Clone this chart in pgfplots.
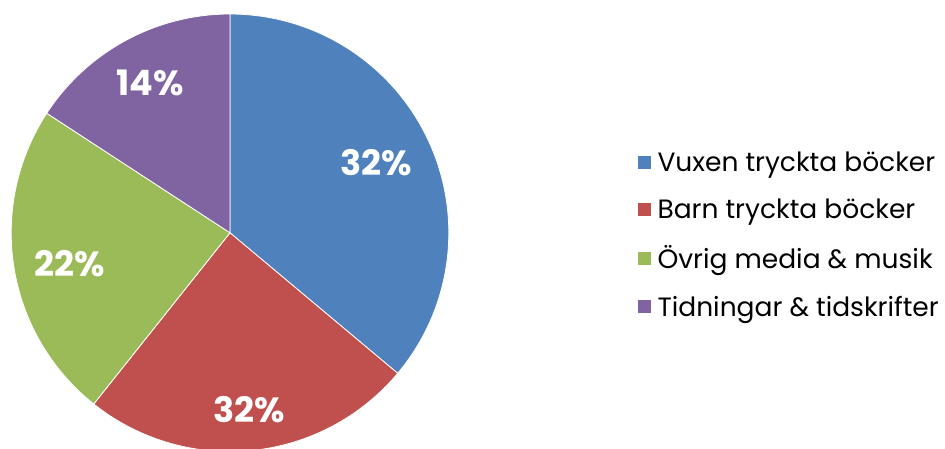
\documentclass[border=0pt]{standalone}
\usepackage{pgfplots}
\pgfplotsset{compat=1.18}
\usepackage{fontspec}
\setmainfont{Poppins}
\definecolor{cA}{HTML}{4F81BD}
\definecolor{cB}{HTML}{C0504D}
\definecolor{cC}{HTML}{9BBB59}
\definecolor{cD}{HTML}{8064A2}
% slice shares (percent) as drawn
\def\vA{36.1}\def\vB{24.6}\def\vC{23.5}\def\vD{15.8}
\def\cx{230}\def\cy{-232.8}\def\R{218.8}
\pgfmathsetmacro{\aA}{90}
\pgfmathsetmacro{\aB}{\aA-3.6*\vA}
\pgfmathsetmacro{\aC}{\aB-3.6*\vB}
\pgfmathsetmacro{\aD}{\aC-3.6*\vC}
\pgfmathsetmacro{\aE}{\aD-3.6*\vD}
\begin{document}
\begin{tikzpicture}
\useasboundingbox (0,0) rectangle (945pt,448pt);
\begin{axis}[
  at={(0,0)}, anchor=south west,
  x=1pt, y=1pt, xmin=0, xmax=945, ymin=-448, ymax=0,
  enlargelimits=false, hide axis, clip=true,
  legend image code/.code={\fill[#1] (0pt,-7pt) rectangle (14pt,7pt);},
  legend style={at={(axis cs:637,-150)}, anchor=north west, draw=none, fill=none,
    font=\fontsize{26.5}{30}\selectfont, row sep=21.6pt, inner sep=0pt,
    nodes={inner ysep=2pt, inner xsep=5.5pt}},
  legend cell align=left,
]
\addplot[fill=cA, draw=white, line width=0.8pt, domain=\aB:\aA, samples=120]
  ({\cx+\R*cos(x)},{\cy+\R*sin(x)}) -- (axis cs:\cx,\cy) -- cycle;
\addlegendentry{Vuxen tryckta böcker}
\addplot[fill=cB, draw=white, line width=0.8pt, domain=\aC:\aB, samples=120]
  ({\cx+\R*cos(x)},{\cy+\R*sin(x)}) -- (axis cs:\cx,\cy) -- cycle;
\addlegendentry{Barn tryckta böcker}
\addplot[fill=cC, draw=white, line width=0.8pt, domain=\aD:\aC, samples=120]
  ({\cx+\R*cos(x)},{\cy+\R*sin(x)}) -- (axis cs:\cx,\cy) -- cycle;
\addlegendentry{Övrig media \& musik}
\addplot[fill=cD, draw=white, line width=0.8pt, domain=\aE:\aD, samples=120]
  ({\cx+\R*cos(x)},{\cy+\R*sin(x)}) -- (axis cs:\cx,\cy) -- cycle;
\addlegendentry{Tidningar \& tidskrifter}
\begin{scope}[every node/.style={text=white, font=\bfseries\fontsize{35}{40}\selectfont}]
\node at (axis cs:376,-163) {32\%};
\node at (axis cs:249,-410) {32\%};
\node at (axis cs:70,-264) {22\%};
\node at (axis cs:150,-83) {14\%};
\end{scope}
\end{axis}
\end{tikzpicture}
\end{document}
